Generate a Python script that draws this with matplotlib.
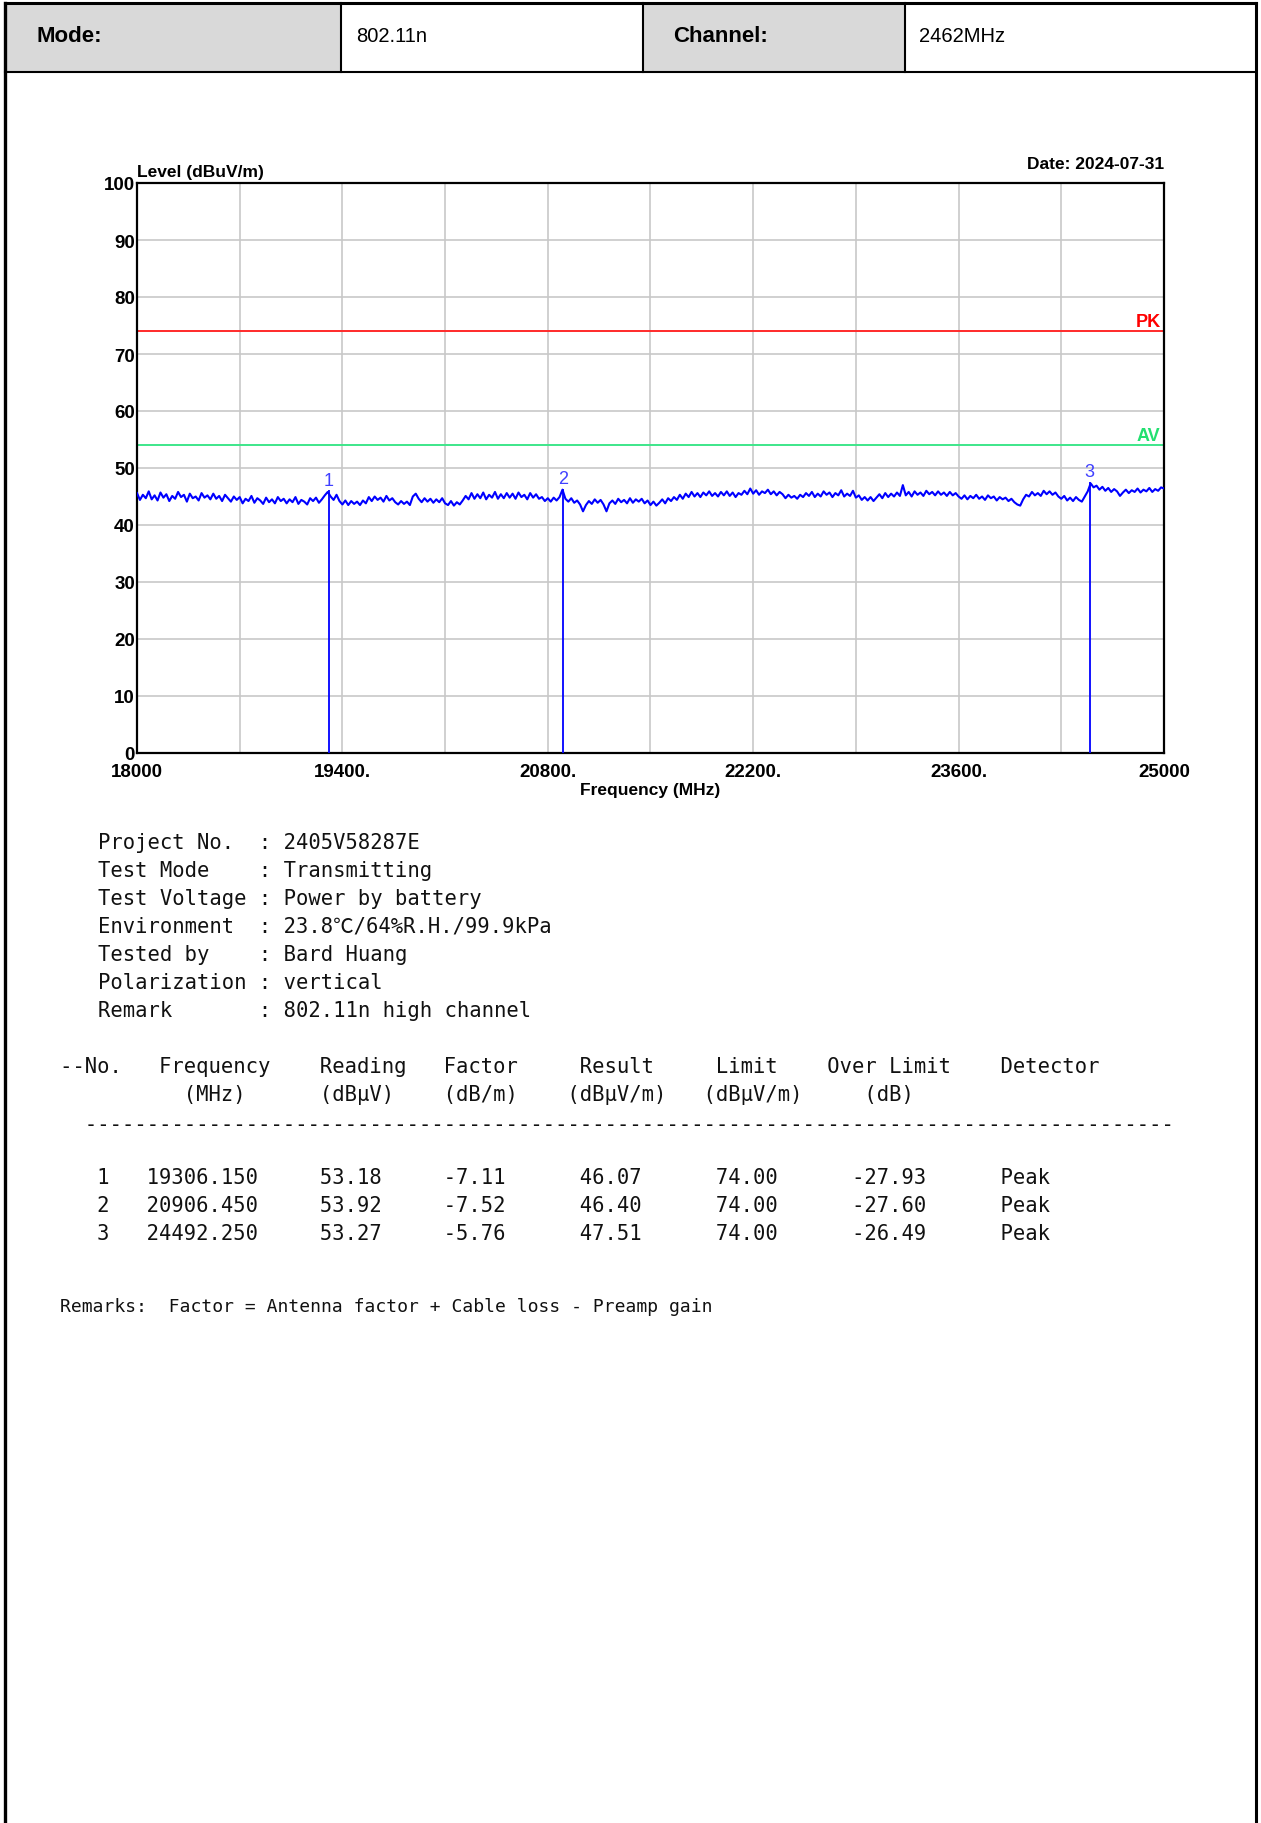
"""Radiated emission test page: 18-25 GHz scan, 802.11n high channel."""
import numpy as np
import matplotlib
matplotlib.use("Agg")
import matplotlib.pyplot as plt
from matplotlib.patches import Rectangle
from matplotlib.lines import Line2D

W, H = 1261, 1824
MONO = ["DejaVu Sans Mono", "Noto Sans CJK SC"]

# ---- data -------------------------------------------------------------
HEADER_LABELS = ["Mode:", "Channel:"]
HEADER_VALUES = ["802.11n", "2462MHz"]

FREQ_START = 18000    # MHz
FREQ_STEP = 20        # MHz between trace samples
# trace level (dBuV/m), one row per 500 MHz
LEVEL = [
    45.6, 44.4, 45.3, 44.7, 45.9, 44.5, 45.2, 44.3, 45.7, 44.8, 45.4, 44.2, 45.1, 44.6, 45.8, 44.9, 45.3, 44.1, 45.5, 44.7, 45.0, 44.3, 45.6, 44.8, 45.2,
    44.5, 45.5, 44.6, 45.1, 44.2, 45.3, 44.7, 44.1, 45.0, 44.4, 44.9, 43.8, 44.6, 44.2, 45.1, 43.9, 44.7, 44.3, 43.7, 44.8, 44.0, 44.5, 43.8, 44.9, 44.2,
    44.6, 43.8, 44.5, 44.0, 44.9, 43.7, 44.4, 44.1, 43.6, 44.7, 44.2, 44.8, 43.9, 44.5, 45.2, 45.8, 45.0, 44.4, 45.3, 44.2, 43.6, 44.3, 43.5, 44.2, 43.7,
    44.1, 43.5, 44.3, 43.8, 44.9, 44.2, 45.0, 44.4, 44.8, 44.1, 45.1, 44.3, 44.7, 44.0, 43.6, 44.2, 43.7, 44.1, 43.5, 45.0, 45.5, 44.6, 44.0, 44.7, 44.1,
    44.6, 43.9, 44.5, 44.0, 44.7, 43.8, 43.5, 44.2, 43.4, 44.0, 43.6, 44.3, 45.1, 44.5, 45.6, 44.6, 45.4, 44.7, 45.7, 44.5, 45.3, 44.8, 45.8, 44.6, 45.4,
    44.7, 45.6, 44.8, 45.5, 44.6, 45.7, 44.9, 45.3, 44.5, 45.6, 44.8, 45.4, 44.6, 44.9, 44.2, 44.7, 44.1, 44.8, 44.3, 44.9, 46.2, 44.6, 44.1, 44.7, 43.9,
    44.3, 43.6, 42.4, 43.5, 44.2, 43.7, 44.5, 43.9, 44.4, 43.6, 42.4, 43.8, 44.3, 43.7, 44.6, 44.0, 44.4, 43.8, 44.7, 43.9, 44.5, 44.1, 44.6, 43.8, 44.3,
    43.5, 44.1, 43.4, 43.9, 44.5, 43.8, 44.7, 44.2, 44.9, 44.4, 45.3, 44.6, 45.5, 44.9, 45.8, 45.0, 45.6, 44.9, 45.7, 45.2, 45.9, 45.1, 45.6, 45.0, 45.8,
    45.2, 45.9, 45.1, 45.7, 44.9, 45.6, 45.3, 46.0, 45.4, 46.4, 45.5, 46.1, 45.3, 45.9, 45.6, 46.2, 45.4, 45.9, 45.2, 45.8, 45.4, 44.7, 45.3, 44.8, 45.1,
    44.6, 45.3, 44.9, 45.6, 45.1, 45.8, 44.9, 45.5, 45.0, 45.9, 45.3, 45.7, 44.9, 45.6, 45.2, 46.1, 45.0, 45.5, 45.1, 46.0, 44.8, 45.2, 44.4, 44.9, 44.3,
    44.9, 44.2, 44.8, 45.4, 44.7, 45.6, 44.9, 45.5, 45.0, 45.7, 45.1, 47.0, 45.2, 45.8, 45.0, 45.9, 45.3, 45.7, 45.1, 46.0, 45.4, 45.8, 45.2, 45.9, 45.3,
    45.7, 45.1, 45.8, 45.2, 45.6, 45.0, 44.6, 45.2, 44.5, 45.1, 44.7, 45.3, 44.6, 45.0, 44.4, 45.2, 44.7, 45.0, 44.3, 44.9, 44.5, 44.8, 44.2, 44.6, 44.0,
    43.6, 43.4, 44.5, 45.3, 45.0, 45.8, 45.2, 45.6, 45.1, 46.0, 45.4, 45.9, 45.3, 45.7, 45.0, 44.6, 45.1, 44.3, 44.8, 44.2, 44.9, 44.4, 44.1, 45.0, 45.9,
    47.3, 46.6, 46.9, 46.2, 46.7, 46.0, 46.5, 45.8, 46.3, 45.9, 45.1, 45.7, 46.2, 45.6, 46.1, 45.8, 46.4, 45.7, 46.2, 45.9, 46.5, 45.8, 46.3, 46.0, 46.6,
    46.4,
]
PK_LIMIT = 74.0
AV_LIMIT = 54.0

XTICKS = [18000, 19400, 20800, 22200, 23600, 25000]
XTICK_LABELS = ["18000", "19400.", "20800.", "22200.", "23600.", "25000"]
YTICKS = [0, 10, 20, 30, 40, 50, 60, 70, 80, 90, 100]

MARK_NO = [1, 2, 3]
MARK_FREQ = [19306.150, 20906.450, 24492.250]
READING = [53.18, 53.92, 53.27]
FACTOR = [-7.11, -7.52, -5.76]
RESULT = [46.07, 46.40, 47.51]
LIMIT = [74.00, 74.00, 74.00]
OVER_LIMIT = [-27.93, -27.60, -26.49]
DETECTOR = ["Peak", "Peak", "Peak"]

INFO_KEYS = ["Project No.", "Test Mode", "Test Voltage", "Environment",
             "Tested by", "Polarization", "Remark"]
INFO_VALUES = ["2405V58287E", "Transmitting", "Power by battery",
               "23.8\u2103/64%R.H./99.9kPa", "Bard Huang", "vertical",
               "802.11n high channel"]
REMARKS = "Remarks:  Factor = Antenna factor + Cable loss - Preamp gain"


def fx(x):
    return x / W


def fy(y):
    return 1 - y / H


def cols(pairs):
    """Lay strings out on a fixed-width line: [(column, text), ...]."""
    line = ""
    for c, s in pairs:
        line = line.ljust(c) + s
    return line


plt.rcParams["font.family"] = ["Liberation Sans", "DejaVu Sans"]
fig = plt.figure(figsize=(W / 100, H / 100), dpi=100)
fig.patch.set_facecolor("white")

# ---- page frame + header row -----------------------------------------
HDR_TOP, HDR_BOT = 4, 73
for x0, x1 in [(5, 341), (643, 905)]:
    fig.add_artist(Rectangle((fx(x0), fy(HDR_BOT)), fx(x1) - fx(x0), fy(HDR_TOP) - fy(HDR_BOT),
                             transform=fig.transFigure, facecolor="#d9d9d9", edgecolor="none"))


def fline(xs, ys, lw):
    fig.add_artist(Line2D([fx(x) for x in xs], [fy(y) for y in ys],
                          transform=fig.transFigure, color="black", lw=lw))


fline([5, 1256], [HDR_TOP, HDR_TOP], 2.2)
fline([5, 5], [HDR_TOP, H], 2.4)
fline([1256, 1256], [HDR_TOP, H], 2.2)
fline([5, 1256], [HDR_BOT, HDR_BOT], 1.5)
for x in (341, 643, 905):
    fline([x, x], [HDR_TOP, HDR_BOT], 1.5)

hy = 36
for x, s in zip((37, 673), HEADER_LABELS):
    fig.text(fx(x), fy(hy), s, fontsize=16, fontweight="bold", va="center", ha="left")
for x, s in zip((356, 919), HEADER_VALUES):
    fig.text(fx(x), fy(hy), s, fontsize=14.5, va="center", ha="left")

# ---- spectrum plot ----------------------------------------------------
AX_L, AX_R, AX_T, AX_B = 137, 1164, 184, 754
ax = fig.add_axes([fx(AX_L), fy(AX_B), fx(AX_R) - fx(AX_L), fy(AX_T) - fy(AX_B)])

freqs = FREQ_START + FREQ_STEP * np.arange(len(LEVEL))
ax.plot(freqs, LEVEL, color="#0000ff", lw=1.5, zorder=3)
ax.axhline(PK_LIMIT, color="#ff2a2a", lw=1.4, zorder=2)
ax.axhline(AV_LIMIT, color="#3de68a", lw=1.4, zorder=2)
ax.vlines(MARK_FREQ, 0, RESULT, color="#0000ff", lw=1.3, zorder=4)
for n, f, r in zip(MARK_NO, MARK_FREQ, RESULT):
    ax.text(f, r + 1.8, str(n), ha="center", va="center", color="#4040ff", fontsize=13)

for val, txt, col in [(PK_LIMIT, "PK", "#ff0000"), (AV_LIMIT, "AV", "#22e070")]:
    ax.annotate(txt, xy=(1.0, val), xycoords=("axes fraction", "data"),
                xytext=(-2.5, 3.5), textcoords="offset points",
                ha="right", va="baseline", color=col, fontsize=13, fontweight="bold")

ax.set_xlim(XTICKS[0], XTICKS[-1])
ax.set_ylim(YTICKS[0], YTICKS[-1])
ax.set_xticks(XTICKS)
ax.set_xticklabels(XTICK_LABELS)
ax.set_xticks([(a + b) / 2 for a, b in zip(XTICKS[:-1], XTICKS[1:])], minor=True)
ax.set_yticks(YTICKS)
ax.grid(True, which="both", color="#c8c8c8", lw=1.2)
ax.set_axisbelow(True)
ax.tick_params(which="both", length=0)
ax.tick_params(axis="y", pad=1.5)
ax.tick_params(axis="x", pad=7)
for lbl in ax.get_xticklabels() + ax.get_yticklabels():
    lbl.set_fontweight("bold")
    lbl.set_fontsize(13.5)
for s in ax.spines.values():
    s.set_color("black")
    s.set_linewidth(1.6)

fig.text(fx(AX_L), fy(177), "Level (dBuV/m)", fontsize=12.5, fontweight="bold",
         ha="left", va="baseline")
fig.text(fx(AX_R), fy(169), "Date: 2024-07-31", fontsize=12.5, fontweight="bold",
         ha="right", va="baseline")
fig.text(fx((AX_L + AX_R) / 2), fy(791), "Frequency (MHz)", fontsize=12.5,
         fontweight="bold", ha="center", va="center")

# ---- test info block --------------------------------------------------
MONO_SIZE = 14.8
for i, (k, v) in enumerate(zip(INFO_KEYS, INFO_VALUES)):
    fig.text(fx(98), fy(849 + i * 27.95), f"{k:<13}: {v}", family=MONO,
             fontsize=MONO_SIZE, va="baseline", color="#111111")

# ---- marker table -----------------------------------------------------
TX = 60
head1 = cols([(0, "--No."), (8, "Frequency"), (21, "Reading"), (31, "Factor"),
              (42, "Result"), (53, "Limit"), (62, "Over Limit"), (76, "Detector")])
head2 = cols([(10, "(MHz)"), (21, "(dB\u03bcV)"), (31, "(dB/m)"), (41, "(dB\u03bcV/m)"),
              (52, "(dB\u03bcV/m)"), (65, "(dB)")])
dashes = cols([(2, "-" * 88)])
rows = [head1, head2]
ys = [1073, 1101]
fig.text(fx(TX), fy(1131), dashes, family=MONO, fontsize=MONO_SIZE, va="baseline", color="#111111")
for i in range(len(MARK_NO)):
    rows.append(cols([(3, str(MARK_NO[i])), (7, f"{MARK_FREQ[i]:.3f}"),
                      (21, f"{READING[i]:.2f}"), (31, f"{FACTOR[i]:.2f}"),
                      (42, f"{RESULT[i]:.2f}"), (53, f"{LIMIT[i]:.2f}"),
                      (64, f"{OVER_LIMIT[i]:.2f}"), (76, DETECTOR[i])]))
    ys.append(1184.5 + i * 27.95)
for y, line in zip(ys, rows):
    fig.text(fx(TX), fy(y), line, family=MONO, fontsize=MONO_SIZE, va="baseline", color="#111111")

fig.text(fx(TX), fy(1312), REMARKS, family=MONO, fontsize=13.0,
         va="baseline", color="#111111")

fig.savefig("out.png", dpi=100, facecolor="white")
